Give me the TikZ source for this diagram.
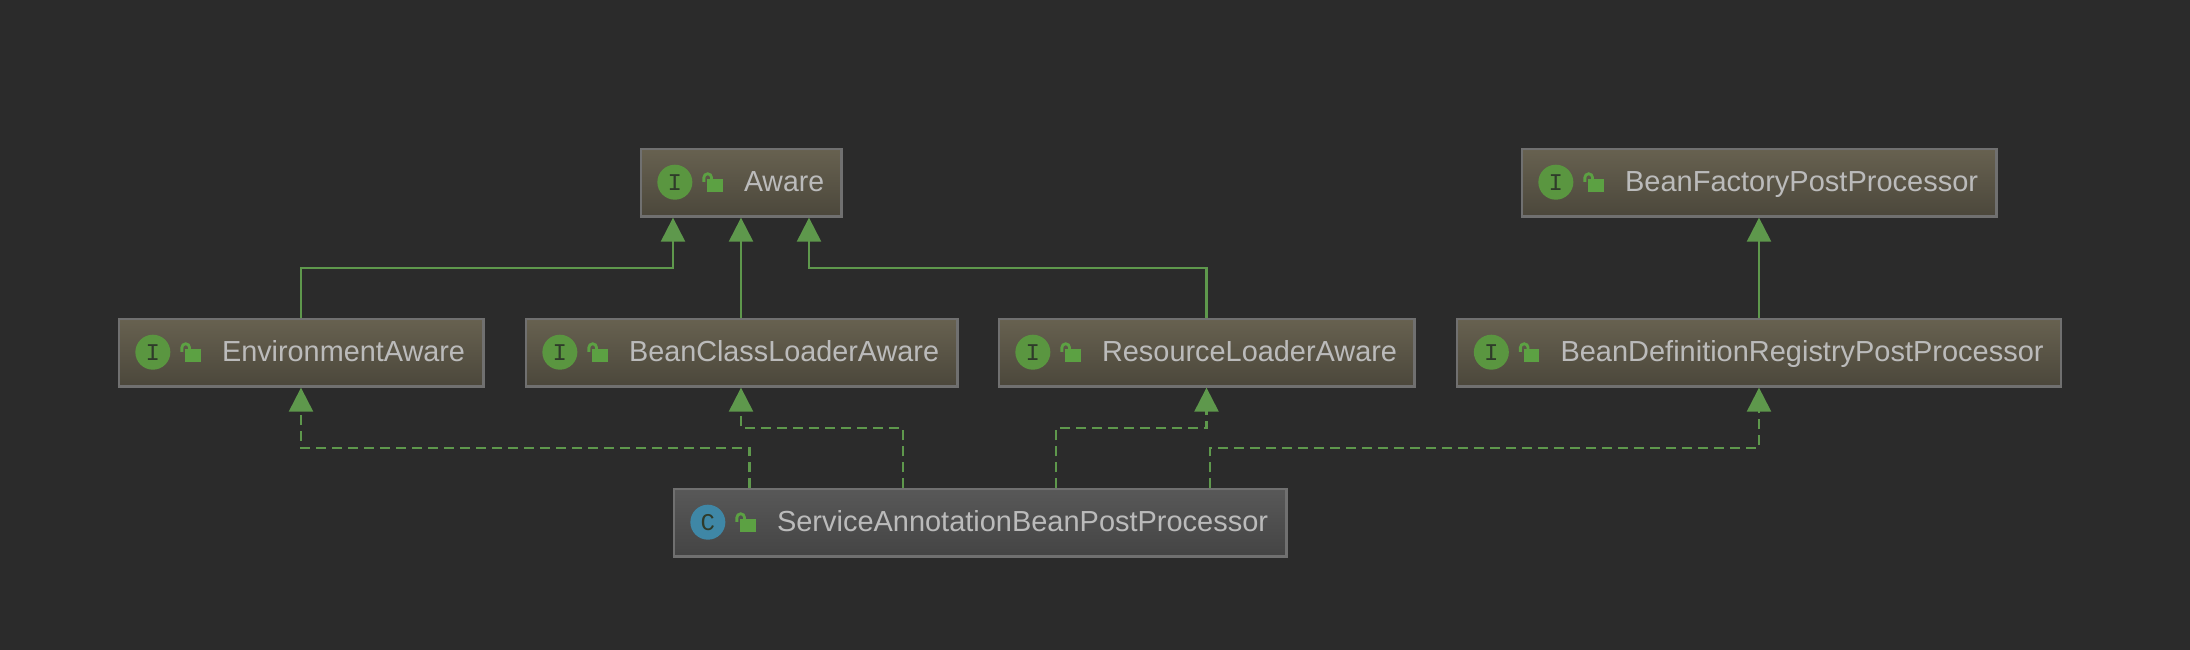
\documentclass[tikz,border=0pt]{standalone}
\usepackage{fontspec}
\usepackage{graphicx}
\setmainfont{Liberation Sans}
\newfontfamily\iconfont{Liberation Mono}
\usetikzlibrary{arrows.meta,calc}
\definecolor{bgc}{HTML}{2B2B2B}
\definecolor{edgec}{HTML}{5E984C}
\definecolor{framec}{HTML}{707070}
\definecolor{itop}{HTML}{676150}
\definecolor{ibot}{HTML}{4B473B}
\definecolor{ctop}{HTML}{585858}
\definecolor{cbot}{HTML}{444444}
\definecolor{labelc}{HTML}{BBBBBB}
\definecolor{igreen}{HTML}{5A9640}
\definecolor{cblue}{HTML}{3F87A6}
\definecolor{lockc}{HTML}{5CA143}
\definecolor{letterc}{HTML}{2F3B2A}
\tikzset{
  x=1pt,y=-1pt,
  umlbox/.style={draw=framec,line width=2.2pt,rectangle,outer sep=0.75pt,minimum height=67.8pt,inner sep=0pt},
  ifacebox/.style={umlbox,top color=itop,bottom color=ibot},
  classbox/.style={umlbox,top color=ctop,bottom color=cbot},
  badge/.style={circle,minimum size=35pt,inner sep=0pt,outer sep=0pt,text=letterc,font=\iconfont\fontsize{24}{24}\selectfont},
  umllabel/.style={anchor=base west,inner sep=0pt,text=labelc,font=\fontsize{29}{29}\selectfont},
  extends/.style={draw=edgec,line width=2.2pt,-{Triangle[length=24pt,width=24pt,fill=edgec]}},
  implements/.style={extends,dash pattern=on 10pt off 6pt},
}
% name, cx, cy, width, text width, label, box style, badge colour, letter
\newcommand{\entitybox}[9]{%
  \node[#7,minimum width=#4pt-2.2pt] (#1) at (#2,#3) {};
  \draw[framec,line width=2pt] ([yshift=1.2pt]#1.south west) -- ([yshift=1.2pt]#1.south east);
  \node[badge,fill=#8] (#1-badge) at ([xshift=35pt,yshift=0.8pt]#1.west) {#9};
  \fill[lockc] ([shift={(67.2pt,3.7pt)}]#1.west) rectangle ([shift={(83pt,-8.7pt)}]#1.west);
  \draw[lockc,line width=2.8pt] ([shift={(64pt,1.2pt)}]#1.west) -- ([shift={(64pt,5.4pt)}]#1.west)
     arc[start angle=180,end angle=0,radius=3.85pt] -- ++(0pt,-3pt);
  \node[umllabel] (#1-label) at ([shift={(104pt,-8.7pt)}]#1.west) {\resizebox{#5pt}{\height}{#6}};
}
\begin{document}
\begin{tikzpicture}
\fill[bgc] (0,0) rectangle (2190,650);
\useasboundingbox (0,0) rectangle (2190,650);
\entitybox{aware}{741}{183}{203}{80}{Aware}{ifacebox}{igreen}{I}
\entitybox{factory}{1759}{183}{477}{353}{BeanFactoryPostProcessor}{ifacebox}{igreen}{I}
\entitybox{env}{301}{353}{367}{243}{EnvironmentAware}{ifacebox}{igreen}{I}
\entitybox{classl}{741.5}{353}{434}{310}{BeanClassLoaderAware}{ifacebox}{igreen}{I}
\entitybox{resl}{1206.5}{353}{418}{295}{ResourceLoaderAware}{ifacebox}{igreen}{I}
\entitybox{regist}{1759}{353}{606}{483}{BeanDefinitionRegistryPostProcessor}{ifacebox}{igreen}{I}
\entitybox{service}{980}{523}{615}{491}{ServiceAnnotationBeanPostProcessor}{classbox}{cblue}{C}
% solid
\coordinate (awareL) at ([xshift=-68pt]aware.south);
\coordinate (awareM) at (aware.south);
\coordinate (awareR) at ([xshift=68pt]aware.south);
\draw[extends] (env.north) -- ++(0,-50) -| (awareL);
\draw[extends] (classl.north -| awareM) -- (awareM);
\draw[extends] (resl.north) -- ++(0,-50) -| (awareR);
\draw[extends] (regist.north) -- (factory.south);
% dashed
\coordinate (s1) at ([xshift=749.5pt]service.north -| 0,0);
\coordinate (s2) at ([xshift=903pt]service.north -| 0,0);
\coordinate (s3) at ([xshift=1056pt]service.north -| 0,0);
\coordinate (s4) at ([xshift=1210pt]service.north -| 0,0);
\draw[implements] (s1) -- ++(0,-40) -| (env.south);
\draw[implements] (s2) -- ++(0,-60) -| (classl.south -| awareM);
\draw[implements] (s3) -- ++(0,-60) -| (resl.south);
\draw[implements] (s4) -- ++(0,-40) -| (regist.south);
\end{tikzpicture}
\end{document}
